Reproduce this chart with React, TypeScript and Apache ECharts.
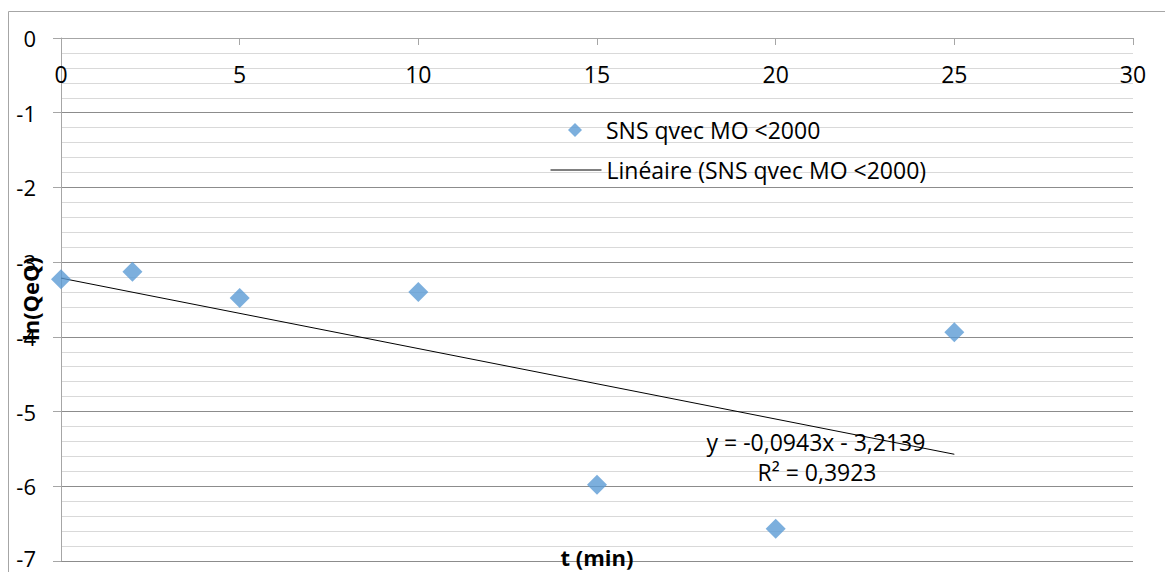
import React, { useEffect, useRef } from "react";
import * as echarts from "echarts";

const seriesName = "SNS qvec MO <2000";
const trendName = "Linéaire (SNS qvec MO <2000)";
const tValues = [0, 2, 5, 10, 15, 20, 25];
const lnValues = [-3.23, -3.13, -3.48, -3.40, -5.98, -6.57, -3.94];
const trendSlope = -0.0943;
const trendIntercept = -3.2139;
const equationText = "y = -0,0943x - 3,2139";
const r2Text = "R² = 0,3923";
const xAxisTitle = "t (min)";
const yAxisTitle = "ln(QeQ)";

const FONT = "'Open Sans', 'Noto Sans', sans-serif";
const FS = 23;
const Y_MIN = -7;

export default function App() {
  const ref = useRef<HTMLDivElement>(null);
  useEffect(() => {
    if (!ref.current) return;
    const chart = echarts.init(ref.current, null, { renderer: "svg" });
    const points = tValues.map((t, i) => [t, lnValues[i]]);
    const tMin = tValues[0];
    const tMax = tValues[tValues.length - 1];
    const trend = [
      [tMin, trendIntercept + trendSlope * tMin],
      [tMax, trendIntercept + trendSlope * tMax],
    ];
    chart.setOption({
      animation: false,
      backgroundColor: "#ffffff",
      grid: {
        left: 61,
        right: 32,
        top: 38,
        bottom: 11,
        containLabel: false,
        outerBoundsMode: "none",
      },
      xAxis: {
        type: "value",
        position: "top",
        min: 0,
        max: 30,
        interval: 5,
        axisLine: { show: true, lineStyle: { color: "#a6a6a6", width: 1 } },
        axisTick: { show: true, inside: true, length: 7, lineStyle: { color: "#a6a6a6" } },
        axisLabel: { inside: true, margin: 24, fontSize: FS, color: "#000", fontFamily: FONT },
        splitLine: { show: false },
      },
      yAxis: {
        type: "value",
        min: Y_MIN,
        max: 0,
        interval: 1,
        axisLine: { show: true, lineStyle: { color: "#a6a6a6", width: 1 } },
        axisTick: { show: true, inside: false, length: 8, lineStyle: { color: "#a6a6a6" } },
        axisLabel: {
          margin: 25,
          fontSize: 22,
          lineHeight: 20,
          color: "#000",
          fontFamily: FONT,
          formatter: (v: number) => (v === Y_MIN ? "{low|" + v + "}" : String(v)),
          rich: {
            low: { fontSize: 22, lineHeight: 20, color: "#000", fontFamily: FONT, padding: [0, 0, 6, 0] },
          },
        },
        splitLine: { show: true, lineStyle: { color: "#8c8c8c", width: 1 } },
        minorTick: { show: false, splitNumber: 5 },
        minorSplitLine: { show: true, lineStyle: { color: "#d9d9d9", width: 1 } },
      },
      legend: [
        {
          orient: "vertical",
          left: 568,
          top: 118,
          padding: 0,
          itemWidth: 14,
          itemHeight: 14,
          textStyle: {
            fontSize: FS,
            color: "#000",
            fontFamily: FONT,
            lineHeight: 24,
            padding: [0, 0, 0, 19],
          },
          data: [{ name: seriesName, icon: "diamond" }],
        },
        {
          orient: "vertical",
          left: 550,
          top: 158,
          padding: 0,
          itemWidth: 51,
          itemHeight: 14,
          textStyle: { fontSize: FS, color: "#000", fontFamily: FONT, lineHeight: 24 },
          data: [
            {
              name: trendName,
              itemStyle: { color: "rgba(0,0,0,0)", borderWidth: 0, opacity: 0 },
              lineStyle: { color: "#000", width: 1, opacity: 1 },
            },
          ],
        },
      ],
      series: [
        {
          name: trendName,
          type: "line",
          data: trend,
          symbol: "none",
          lineStyle: { color: "#000", width: 1 },
          itemStyle: { color: "#000" },
          z: 3,
        },
        {
          name: seriesName,
          type: "scatter",
          data: points,
          symbol: "diamond",
          symbolSize: 20,
          itemStyle: { color: "#5B9BD5" },
          z: 4,
        },
      ],
      graphic: [
        {
          type: "rect",
          shape: { x: 8.5, y: 11.5, width: 1200, height: 600 },
          style: { fill: "none", stroke: "#a6a6a6", lineWidth: 1 },
          silent: true,
          z: 0,
        },
        {
          type: "text",
          x: 30,
          y: 299,
          rotation: Math.PI / 2,
          style: {
            text: yAxisTitle,
            fontSize: 22,
            fontWeight: "bold",
            fontFamily: FONT,
            fill: "#000",
            align: "center",
            verticalAlign: "middle",
          },
          z: 10,
        },
        {
          type: "text",
          x: 597,
          y: 557,
          style: {
            text: xAxisTitle,
            fontSize: 22,
            fontWeight: "bold",
            fontFamily: FONT,
            fill: "#000",
            align: "center",
            verticalAlign: "middle",
          },
          z: 10,
        },
        {
          type: "text",
          x: 816,
          y: 442,
          style: {
            text: equationText,
            fontSize: FS,
            fontFamily: FONT,
            fill: "#000",
            align: "center",
            verticalAlign: "middle",
          },
          z: 10,
        },
        {
          type: "text",
          x: 817,
          y: 472,
          style: {
            text: r2Text,
            fontSize: FS,
            fontFamily: FONT,
            fill: "#000",
            align: "center",
            verticalAlign: "middle",
          },
          z: 10,
        },
      ],
    });
    return () => chart.dispose();
  }, []);
  return (
    <div
      ref={ref}
      style={{ position: "fixed", left: 0, top: 0, width: 1165, height: 572 }}
    />
  );
}
